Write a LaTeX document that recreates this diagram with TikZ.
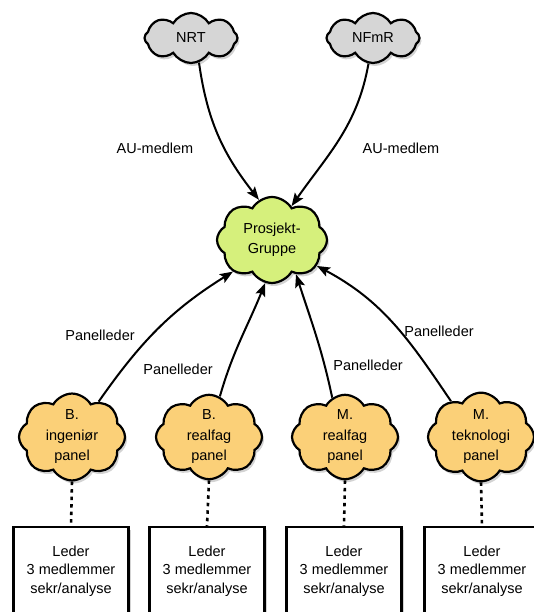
\documentclass[tikz,border=0pt]{standalone}
\usepackage{fontspec}
\setmainfont{Liberation Sans}
\usetikzlibrary{shapes.symbols,shadows,arrows.meta}
\definecolor{cloudgray}{RGB}{214,214,214}
\definecolor{pggreen}{RGB}{214,240,124}
\definecolor{panelorange}{RGB}{251,208,120}
\begin{document}
\begin{tikzpicture}[x=1pt,y=1pt,
  lbl/.style={font=\fontsize{14.5}{18.5}\selectfont},
  cloudbase/.style={cloud, cloud puffs=8, cloud puff arc=120, cloud ignores aspect,
    draw=black, line width=2.2pt, align=center, inner sep=0pt,
    font=\fontsize{14.5}{20.5}\selectfont,
    drop shadow={shadow xshift=2pt,shadow yshift=-3pt,opacity=0.35}},
  topcloud/.style={cloudbase, fill=cloudgray, minimum width=93pt, minimum height=50pt},
  pgcloud/.style={cloudbase, fill=pggreen, minimum width=110pt, minimum height=86pt},
  panelcloud/.style={cloudbase, fill=panelorange, minimum width=106pt, minimum height=80pt},
  infobox/.style={rectangle, draw=black, line width=2.2pt, fill=white, align=center,
    minimum width=115pt, minimum height=88pt, inner sep=0pt,
    font=\fontsize{14.5}{18.5}\selectfont,
    drop shadow={shadow xshift=2pt,shadow yshift=-3pt,opacity=0.35}},
  arr/.style={line width=2pt, -{Stealth[length=13pt,width=10pt,inset=2.5pt]}},
  dots/.style={line width=2.6pt, dash pattern=on 3.5pt off 4pt}
]
\useasboundingbox (0,0) rectangle (533,612);
% top clouds
\node[topcloud] (nrt) at (191,574) {NRT};
\node[topcloud] (nfmr) at (373,574) {NFmR};
% project group
\node[pgcloud] (pg) at (272,372) {Prosjekt-\\Gruppe};
% panels
\node[panelcloud] (p1) at (72,175) {B.\\ingeniør\\panel};
\node[panelcloud] (p2) at (209,175) {B.\\realfag\\panel};
\node[panelcloud] (p3) at (345,175) {M.\\realfag\\panel};
\node[panelcloud] (p4) at (481,175) {M.\\teknologi\\panel};
% boxes
\node[infobox] (b1) at (71,41) {Leder\\3 medlemmer\\sekr/analyse};
\node[infobox] (b2) at (207,41) {Leder\\3 medlemmer\\sekr/analyse};
\node[infobox] (b3) at (344,41) {Leder\\3 medlemmer\\sekr/analyse};
\node[infobox] (b4) at (482,41) {Leder\\3 medlemmer\\sekr/analyse};
% arrows to project group
\draw[arr] (nrt.-72) to[out=-82,in=128] (pg.108);
\draw[arr] (nfmr.-100) to[out=-100,in=55] (pg.60);
\draw[arr] (p1.53) to[out=55,in=-148] (pg.-141);
\draw[arr] (p2.75) to[out=74,in=-112] (pg.-99);
\draw[arr] (p3.108) to[out=102,in=-72] (pg.-55);
\draw[arr] (p4.130) to[out=124,in=-28] (pg.-30);
% dotted links
\draw[dots] (p1.south) -- (b1.north);
\draw[dots] (p2.south) -- (b2.north);
\draw[dots] (p3.south) -- (b3.north);
\draw[dots] (p4.south) -- (b4.north);
% labels
\node[lbl] (l1) at (155,464) {AU-medlem};
\node[lbl] (l2) at (401,464) {AU-medlem};
\node[lbl] (l3) at (100,277) {Panelleder};
\node[lbl] (l4) at (178,243) {Panelleder};
\node[lbl] (l5) at (368,247) {Panelleder};
\node[lbl] (l6) at (439,281) {Panelleder};
\end{tikzpicture}
\end{document}
